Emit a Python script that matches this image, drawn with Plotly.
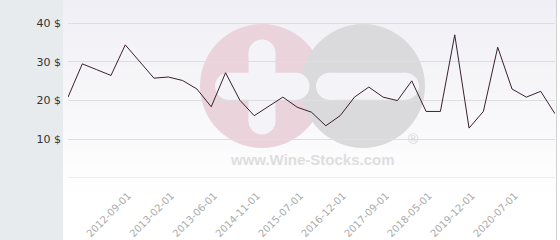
import plotly.graph_objects as go

# ---- data ----
dates = [
    "2012-01-01", "2012-03-01", "2012-05-01", "2012-07-01", "2012-09-01",
    "2012-11-01", "2012-12-01", "2013-02-01", "2013-03-01", "2013-05-01",
    "2013-06-01", "2013-10-01", "2014-03-01", "2014-11-01", "2015-02-01",
    "2015-05-01", "2015-07-01", "2016-01-01", "2016-06-01", "2016-12-01",
    "2017-03-01", "2017-06-01", "2017-09-01", "2017-12-01", "2018-03-01",
    "2018-05-01", "2018-11-01", "2019-06-01", "2019-12-01", "2020-02-01",
    "2020-05-01", "2020-07-01", "2020-10-01", "2021-01-01", "2021-04-01",
]
prices = [
    20.9, 29.5, 28.0, 26.5, 34.4,
    30.1, 25.8, 26.1, 25.2, 23.0,
    18.4, 27.2, 20.1, 16.1, 18.5,
    20.9, 18.3, 17.0, 13.5, 16.1,
    20.9, 23.5, 20.9, 20.0, 25.1,
    17.2, 17.2, 37.0, 12.9, 17.2,
    33.8, 23.0, 20.9, 22.4, 16.6,
]
tick_labels = [
    "2012-09-01", "2013-02-01", "2013-06-01", "2014-11-01", "2015-07-01",
    "2016-12-01", "2017-09-01", "2018-05-01", "2019-12-01", "2020-07-01",
]
y_ticks = [0, 10, 20, 30, 40]
y_tick_text = ["", "10 $", "20 $", "30 $", "40 $"]

# ---- geometry (pixels) ----
W, H = 560, 240
ML, MR, MT, MB = 68, 5, 0, 62
PW = W - ML - MR
PH = H - MT - MB


def px(x):
    return (x - ML) / PW


def py(y):
    return (H - MB - y) / PH


shapes = []
# background gradient
N = 30
top = (239, 239, 245)
for i in range(N):
    y0 = 200 * i / N
    y1 = 200 * (i + 1) / N + 0.5
    t = (i + 0.5) / N
    c = tuple(int(round(top[k] + (255 - top[k]) * t)) for k in range(3))
    shapes.append(dict(type="rect", xref="paper", yref="paper", layer="below",
                       x0=px(63), x1=px(557), y0=py(y1), y1=py(y0),
                       fillcolor="rgb(%d,%d,%d)" % c, line=dict(width=0)))
# left panel
shapes.append(dict(type="rect", xref="paper", yref="paper", layer="below",
                   x0=px(0), x1=px(63), y0=py(H), y1=py(0),
                   fillcolor="#e7ebee", line=dict(width=0)))
# right border
shapes.append(dict(type="line", xref="paper", yref="paper", layer="below",
                   x0=px(556.5), x1=px(556.5), y0=py(H), y1=py(0),
                   line=dict(color="#d2d2d2", width=1)))


def circ(cx, cy, r, color):
    shapes.append(dict(type="circle", xref="paper", yref="paper", layer="below",
                       x0=px(cx - r), x1=px(cx + r), y0=py(cy + r), y1=py(cy - r),
                       fillcolor=color, line=dict(width=0)))


def rect(x0, x1, y0, y1, color):
    shapes.append(dict(type="rect", xref="paper", yref="paper", layer="below",
                       x0=px(x0), x1=px(x1), y0=py(y1), y1=py(y0),
                       fillcolor=color, line=dict(width=0)))


pink = "#ead3da"
grey = "#dadadc"
bar = "#f4f4f8"
# watermark circles
circ(262, 86, 62, pink)
circ(363, 86, 62, grey)
# plus sign
r = 13.5
rect(248.5, 275.5, 53, 121, bar)
circ(262, 53, r, bar)
circ(262, 121, r, bar)
rect(228.5, 296, 72.8, 99.8, bar)
circ(228.5, 86.3, r, bar)
circ(296, 86.3, r, bar)
# minus sign
rect(329.5, 405.5, 72.8, 99.8, bar)
circ(329.5, 86.3, r, bar)
circ(405.5, 86.3, r, bar)

# zero grid line (at the bottom edge of the plot area)
shapes.append(dict(type="line", xref="paper", yref="y", layer="below",
                   x0=0, x1=1, y0=0, y1=0,
                   line=dict(color="#dedede", width=1)))

annotations = [
    dict(text="<b>www.Wine-Stocks.com</b>", xref="paper", yref="paper",
         x=px(312), y=py(159), showarrow=False, xanchor="center", yanchor="middle",
         font=dict(family="Liberation Sans, Arial", size=15, color="#dedee0")),
    dict(text="®", xref="paper", yref="paper",
         x=px(413), y=py(139), showarrow=False, xanchor="center", yanchor="middle",
         font=dict(family="Liberation Sans, Arial", size=14, color="#d6d6d8")),
]

fig = go.Figure()
fig.add_trace(go.Scatter(
    x=dates, y=prices, mode="lines",
    line=dict(color="#3a2030", width=1),
    hoverinfo="x+y",
))

fig.update_layout(
    width=W, height=H,
    margin=dict(l=ML, r=MR, t=MT, b=MB, pad=0),
    paper_bgcolor="white",
    plot_bgcolor="rgba(0,0,0,0)",
    showlegend=False,
    shapes=shapes,
    annotations=annotations,
    font=dict(family="DejaVu Sans"),
    xaxis=dict(
        type="category",
        range=[0, len(dates) - 1],
        tickmode="array",
        tickvals=tick_labels,
        ticktext=tick_labels,
        tickangle=-45,
        showgrid=False,
        zeroline=False,
        showline=False,
        ticks="",
        ticklabelstandoff=9,
        ticklabelshift=3,
        tickfont=dict(family="DejaVu Sans", size=10, color="#aaaaaa"),
    ),
    yaxis=dict(
        range=[0, 46],
        tickmode="array",
        tickvals=y_ticks,
        ticktext=y_tick_text,
        showgrid=True,
        gridcolor="#dedede",
        gridwidth=1,
        zeroline=False,
        showline=False,
        ticks="",
        ticklabelstandoff=6,
        tickfont=dict(family="DejaVu Sans", size=11, color="#333333"),
    ),
)

fig.write_html("out.html")
